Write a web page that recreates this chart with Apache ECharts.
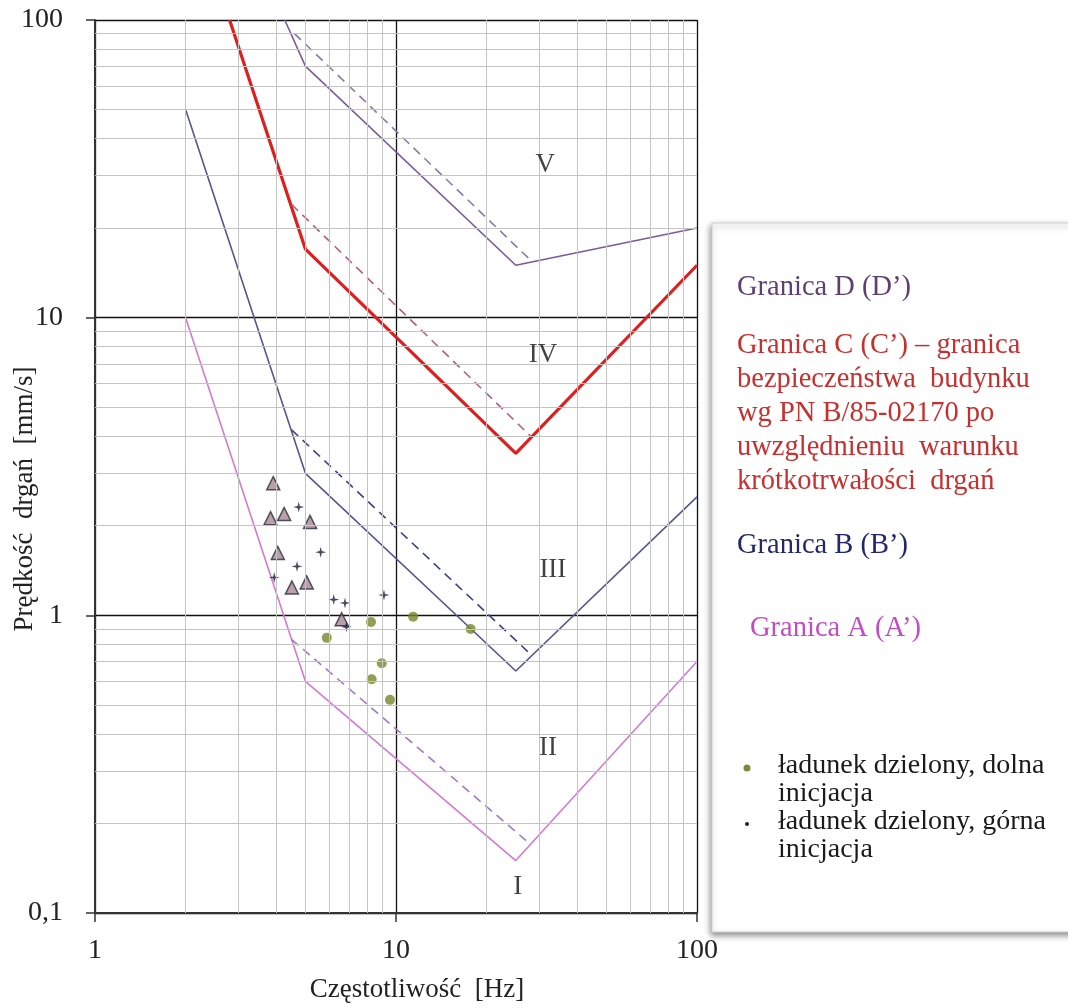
<!DOCTYPE html>
<html>
<head>
<meta charset="utf-8">
<script src="https://cdn.jsdelivr.net/npm/echarts@6/dist/echarts.min.js"></script>
<style>
	html, body { margin: 0; padding: 0; background: #fff; }
	#container { width: 1068px; height: 1008px; }
</style>
</head>
<body>
<div id="container"></div>
<script>
// granice (linie ciagle i przerywane)
var granicaA = [[2, 10], [5, 0.6], [25, 0.15], [100, 0.7]];
var granicaA2 = [[4.5, 0.83], [28, 0.17]];
var granicaB = [[2, 50], [5, 3], [25, 0.65], [100, 2.5]];
var granicaB2 = [[4.5, 4.2], [28, 0.74]];
var granicaC = [[2.8, 100], [5, 17], [25, 3.5], [100, 15]];
var granicaC2 = [[4.5, 24], [28, 4.0]];
var granicaD = [[4.27, 100], [5, 70], [25, 15], [100, 20]];
var granicaD2 = [[4.6, 90], [28, 15.6]];

// punkty pomiarowe
var trojkaty = [[3.91, 2.78], [3.83, 2.12], [4.25, 2.19], [5.18, 2.06], [4.05, 1.62], [4.51, 1.24], [5.05, 1.29], [6.6, 0.97]];
var dolna = [[5.89, 0.84], [8.26, 0.95], [8.97, 0.69], [8.3, 0.61], [9.55, 0.52], [11.4, 0.99], [17.7, 0.9]];
var gorna = [[4.75, 2.31], [5.62, 1.63], [4.69, 1.46], [3.94, 1.34], [6.21, 1.13], [6.77, 1.1], [6.84, 0.915], [9.12, 1.17]];

// strefy
var strefy = [[31.3, 32.6, 'V'], [30.8, 7.5, 'IV'], [33.2, 1.42, 'III'], [32, 0.36, 'II'], [25.4, 0.122, 'I']];

// siatka pomocnicza
var siatkaX = [2, 3, 4, 5, 6, 7, 8, 9, 20, 30, 40, 50, 60, 70, 80, 90];
var siatkaY = [0.2, 0.3, 0.4, 0.5, 0.6, 0.7, 0.8, 0.9, 2, 3, 4, 5, 6, 7, 8, 9, 20, 30, 40, 50, 60, 70, 80, 90];

var FONT = 'Liberation Serif';

function linia(data, color, width, dashed) {
	return {
		type: 'line',
		data: data,
		symbol: 'none',
		z: 3,
		silent: true,
		lineStyle: { color: color, width: width, type: dashed ? [9, 6] : 'solid' }
	};
}

function initChart() {
	var dom = document.getElementById('container');
	var myChart = echarts.init(dom);

	var markSiatka = [];
	siatkaX.forEach(function (v) { markSiatka.push({ xAxis: v }); });
	siatkaY.forEach(function (v) { markSiatka.push({ yAxis: v }); });

	var option = {
		animation: false,
		backgroundColor: '#fff',
		grid: { left: 95, right: 371, top: 20, bottom: 95 },
		xAxis: {
			type: 'log',
			logBase: 10,
			min: 1,
			max: 100,
			axisLine: { lineStyle: { color: '#333', width: 2 } },
			axisTick: { show: true, length: 9, lineStyle: { color: '#333', width: 1.5 } },
			axisLabel: { fontFamily: FONT, fontSize: 28, color: '#222', margin: 24 },
			splitLine: { show: true, lineStyle: { color: '#111', width: 1.3 } }
		},
		yAxis: {
			type: 'log',
			logBase: 10,
			min: 0.1,
			max: 100,
			axisLine: { lineStyle: { color: '#333', width: 2 } },
			axisTick: { show: true, length: 9, lineStyle: { color: '#333', width: 1.5 } },
			axisLabel: {
				fontFamily: FONT, fontSize: 28, color: '#222', margin: 32,
				formatter: function (v) { return String(+Number(v).toPrecision(3)).replace('.', ','); }
			},
			splitLine: { show: true, lineStyle: { color: '#111', width: 1.3 } }
		},
		series: [
			{
				type: 'line',
				data: [],
				z: 1,
				silent: true,
				markLine: {
					silent: true,
					symbol: 'none',
					label: { show: false },
					animation: false,
					lineStyle: { color: '#c4c4c4', width: 1, type: 'solid' },
					data: markSiatka
				}
			},
			linia(granicaA, '#d27ad2', 1.6, false),
			linia(granicaA2, '#a27ac2', 1.6, true),
			linia(granicaB, '#55558f', 1.6, false),
			linia(granicaB2, '#404080', 1.6, true),
			linia(granicaC, '#dd1f1f', 3.2, false),
			linia(granicaC2, '#b0607a', 1.6, true),
			linia(granicaD, '#7a5a9a', 1.6, false),
			linia(granicaD2, '#8a7aa6', 1.6, true),
			{
				type: 'scatter',
				data: trojkaty,
				symbol: 'triangle',
				symbolSize: 13,
				z: 4,
				itemStyle: { color: '#a88896', borderColor: '#2a2a3a', borderWidth: 1.5 }
			},
			{
				type: 'scatter',
				data: dolna,
				symbol: 'circle',
				symbolSize: 10,
				z: 4,
				itemStyle: { color: '#76862a' }
			},
			{
				type: 'scatter',
				data: gorna,
				symbol: 'path://M0,-10 L2,-2 L10,0 L2,2 L0,10 L-2,2 L-10,0 L-2,-2 Z',
				symbolSize: 11,
				z: 4,
				itemStyle: { color: '#1e1e3c' }
			},
			{
				type: 'scatter',
				data: strefy,
				symbol: 'circle',
				symbolSize: 2,
				z: 5,
				silent: true,
				itemStyle: { color: 'rgba(255,255,255,0)' },
				label: {
					show: true,
					position: 'inside',
					formatter: function (p) { return p.data[2]; },
					fontFamily: FONT, fontSize: 27, color: '#111'
				}
			}
		],
		graphic: [
			{
				type: 'rect',
				shape: { x: 712, y: 223, width: 380, height: 709 },
				style: { fill: '#fff', stroke: '#d0d0d0', lineWidth: 1, shadowBlur: 6, shadowOffsetY: 3, shadowOffsetX: -1, shadowColor: 'rgba(0,0,0,0.45)' },
				z: 0
			},
			{ type: 'text', x: 25, y: 499, rotation: Math.PI / 2, style: { text: 'Prędkość  drgań  [mm/s]', font: '27px "Liberation Serif"', fill: '#222', align: 'center', verticalAlign: 'middle' } },
			{ type: 'text', x: 417, y: 990, style: { text: 'Częstotliwość  [Hz]', font: '27px "Liberation Serif"', fill: '#222', align: 'center', verticalAlign: 'middle' } },
			{ type: 'text', x: 737, y: 288, style: { text: 'Granica D (D’)', font: '28.5px "Liberation Serif"', fill: '#5e3f72', verticalAlign: 'middle' } },
			{ type: 'text', x: 737, y: 329, style: { text: 'Granica C (C’) – granica\nbezpieczeństwa  budynku\nwg PN B/85-02170 po\nuwzględnieniu  warunku\nkrótkotrwałości  drgań', font: '28.5px "Liberation Serif"', fill: '#c53030', verticalAlign: 'top', lineHeight: 34 } },
			{ type: 'text', x: 737, y: 546, style: { text: 'Granica B (B’)', font: '28.5px "Liberation Serif"', fill: '#22286a', verticalAlign: 'middle' } },
			{ type: 'text', x: 750, y: 629, style: { text: 'Granica A (A’)', font: '28.5px "Liberation Serif"', fill: '#c24cc2', verticalAlign: 'middle' } },
			{ type: 'circle', shape: { cx: 747, cy: 768, r: 3.5 }, style: { fill: '#7a8a3a' } },
			{ type: 'text', x: 778, y: 752, style: { text: 'ładunek dzielony, dolna\ninicjacja', font: '28px "Liberation Serif"', fill: '#1a1a1a', verticalAlign: 'top', lineHeight: 28 } },
			{ type: 'circle', shape: { cx: 747, cy: 824, r: 2 }, style: { fill: '#222' } },
			{ type: 'text', x: 778, y: 808, style: { text: 'ładunek dzielony, górna\ninicjacja', font: '28px "Liberation Serif"', fill: '#1a1a1a', verticalAlign: 'top', lineHeight: 28 } }
		]
	};

	if (option && typeof option === 'object') {
		myChart.setOption(option, true);
	}
}

initChart();
</script>
</body>
</html>
